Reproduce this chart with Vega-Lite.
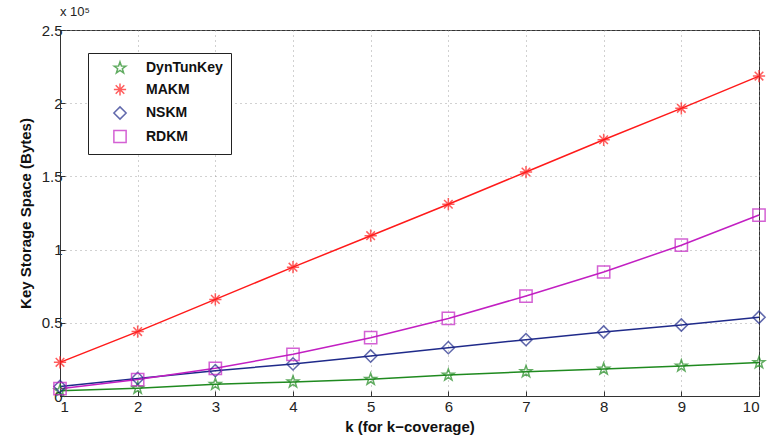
{
  "$schema": "https://vega.github.io/schema/vega-lite/v6.json",
  "width": 699,
  "height": 366,
  "autosize": {"type": "none"},
  "padding": {"left": 60, "top": 30, "right": 8, "bottom": 42},
  "background": "white",
  "title": {"text": "x 10⁵", "anchor": "start", "frame": "group", "fontSize": 13, "fontWeight": "normal", "font": "Liberation Sans", "color": "#222", "offset": 4},
  "config": {
    "view": {"stroke": "#333", "strokeWidth": 1},
    "font": "Liberation Sans",
    "axis": {"labelFont": "Liberation Sans", "titleFont": "Liberation Sans", "labelFontSize": 15, "labelColor": "#222", "titleFontSize": 15, "titleFontWeight": "bold", "titleColor": "#111", "domainColor": "#333", "tickColor": "#333", "gridColor": "#999", "gridDash": [1, 4], "gridOpacity": 0.9, "tickSize": -5},
    "legend": {"title": null, "orient": "none", "legendX": 28, "legendY": 23, "labelFontSize": 14, "labelFontWeight": "bold", "labelColor": "#111", "strokeColor": "#222", "fillColor": "white", "padding": 8, "rowPadding": 3.5, "symbolSize": 150, "symbolStrokeWidth": 1.5, "symbolFillColor": "transparent", "symbolOffset": 17, "labelOffset": 19}
  },
  "data": {"values": [
    {"series": "DynTunKey", "k": 1, "value": 3600},
    {"series": "DynTunKey", "k": 2, "value": 5300},
    {"series": "DynTunKey", "k": 3, "value": 8000},
    {"series": "DynTunKey", "k": 4, "value": 9600},
    {"series": "DynTunKey", "k": 5, "value": 11400},
    {"series": "DynTunKey", "k": 6, "value": 14300},
    {"series": "DynTunKey", "k": 7, "value": 16600},
    {"series": "DynTunKey", "k": 8, "value": 18400},
    {"series": "DynTunKey", "k": 9, "value": 20500},
    {"series": "DynTunKey", "k": 10, "value": 22800},
    {"series": "MAKM", "k": 1, "value": 23000},
    {"series": "MAKM", "k": 2, "value": 44000},
    {"series": "MAKM", "k": 3, "value": 66000},
    {"series": "MAKM", "k": 4, "value": 88000},
    {"series": "MAKM", "k": 5, "value": 109500},
    {"series": "MAKM", "k": 6, "value": 131000},
    {"series": "MAKM", "k": 7, "value": 153000},
    {"series": "MAKM", "k": 8, "value": 175000},
    {"series": "MAKM", "k": 9, "value": 196500},
    {"series": "MAKM", "k": 10, "value": 218500},
    {"series": "NSKM", "k": 1, "value": 6500},
    {"series": "NSKM", "k": 2, "value": 12000},
    {"series": "NSKM", "k": 3, "value": 17300},
    {"series": "NSKM", "k": 4, "value": 21900},
    {"series": "NSKM", "k": 5, "value": 27300},
    {"series": "NSKM", "k": 6, "value": 33000},
    {"series": "NSKM", "k": 7, "value": 38500},
    {"series": "NSKM", "k": 8, "value": 43700},
    {"series": "NSKM", "k": 9, "value": 48500},
    {"series": "NSKM", "k": 10, "value": 53800},
    {"series": "RDKM", "k": 1, "value": 5000},
    {"series": "RDKM", "k": 2, "value": 11200},
    {"series": "RDKM", "k": 3, "value": 18900},
    {"series": "RDKM", "k": 4, "value": 28500},
    {"series": "RDKM", "k": 5, "value": 39800},
    {"series": "RDKM", "k": 6, "value": 53000},
    {"series": "RDKM", "k": 7, "value": 68300},
    {"series": "RDKM", "k": 8, "value": 84700},
    {"series": "RDKM", "k": 9, "value": 103000},
    {"series": "RDKM", "k": 10, "value": 123600}
  ]},
  "encoding": {
    "x": {"field": "k", "type": "quantitative", "scale": {"domain": [1, 10], "nice": false}, "axis": {"values": [1,2,3,4,5,6,7,8,9,10], "title": "k (for k−coverage)", "grid": true, "titlePadding": 5, "labelPadding": 8}},
    "y": {"field": "value", "type": "quantitative", "scale": {"domain": [0, 250000], "nice": false}, "axis": {"values": [0, 50000, 100000, 150000, 200000, 250000], "labelExpr": "datum.value/100000", "title": "Key Storage Space (Bytes)", "grid": true, "titlePadding": 8, "labelPadding": 3}},
    "color": {"field": "series", "type": "nominal", "scale": {"domain": ["DynTunKey", "MAKM", "NSKM", "RDKM"], "range": ["#1f8a1f", "#ff1a1a", "#1f2a8a", "#c21fc2"]}}
  },
  "layer": [
    {"mark": {"type": "line", "strokeWidth": 1.5}, "encoding": {"detail": {"field": "series"}}},
    {"mark": {"type": "point", "filled": false, "size": 150, "strokeWidth": 1.5},
     "encoding": {"shape": {"field": "series", "type": "nominal", "scale": {"domain": ["DynTunKey", "MAKM", "NSKM", "RDKM"], "range": ["M0,-1L0.235,-0.324L0.951,-0.309L0.38,0.124L0.588,0.809L0,0.4L-0.588,0.809L-0.38,0.124L-0.951,-0.309L-0.235,-0.324Z", "M0,-1L0,1M-1,0L1,0M-0.7,-0.7L0.7,0.7M-0.7,0.7L0.7,-0.7", "diamond", "square"]}}}}
  ]
}
